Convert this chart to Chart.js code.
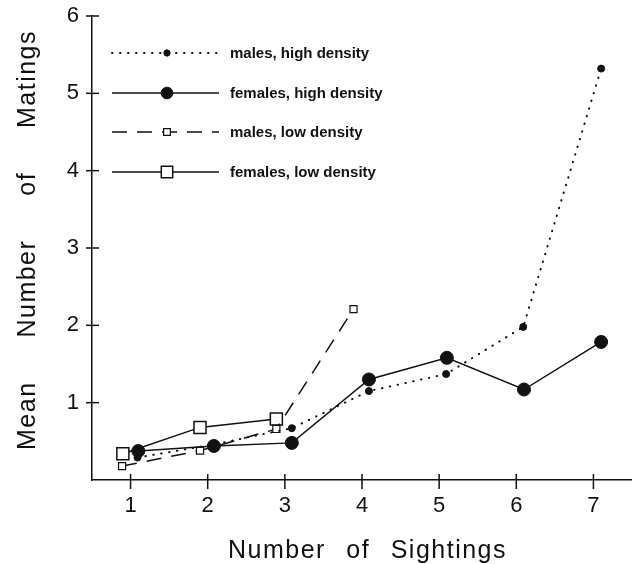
<!DOCTYPE html>
<html>
<head>
<meta charset="utf-8">
<script src="https://cdn.jsdelivr.net/npm/chart.js@4/dist/chart.umd.min.js"></script>
<style>
html,body{margin:0;padding:0;background:#fff;}
#wrap{width:632px;height:564px;position:relative;}
</style>
</head>
<body>
<div id="wrap"><canvas id="c" width="632" height="564"></canvas></div>
<script>
// ---- data ----
const xTicks = [1, 2, 3, 4, 5, 6, 7];
const yTicks = [1, 2, 3, 4, 5, 6];
const seriesNames = ['males, high density', 'females, high density', 'males, low density', 'females, low density'];
const malesHighX = [1.09, 2.08, 3.09, 4.09, 5.09, 6.09, 7.10];
const malesHighY = [0.29, 0.46, 0.67, 1.15, 1.37, 1.98, 5.32];
const femalesHighX = [1.10, 2.08, 3.09, 4.09, 5.10, 6.10, 7.10];
const femalesHighY = [0.375, 0.44, 0.48, 1.30, 1.58, 1.17, 1.785];
const malesLowX = [0.89, 1.90, 2.89, 3.89];
const malesLowY = [0.18, 0.38, 0.66, 2.21];
const femalesLowX = [0.90, 1.90, 2.89];
const femalesLowY = [0.34, 0.68, 0.79];
const xTitleWords = ['Number', 'of', 'Sightings'];
const yTitleWords = ['Mean', 'Number', 'of', 'Matings'];

const FONT = '"Liberation Sans", Arial, Helvetica, sans-serif';
const INK = '#111';

function pts(xs, ys) { return xs.map((x, i) => ({ x: x, y: ys[i] })); }

const datasets = [
  { label: seriesNames[0], data: pts(malesHighX, malesHighY), showLine: true,
    borderColor: INK, backgroundColor: INK, borderWidth: 2, borderDash: [0.5, 7.5], borderCapStyle: 'round',
    pointStyle: 'circle', pointRadius: 3.5, pointBackgroundColor: INK, pointBorderColor: INK, pointBorderWidth: 1, tension: 0 },
  { label: seriesNames[1], data: pts(femalesHighX, femalesHighY), showLine: true,
    borderColor: INK, backgroundColor: INK, borderWidth: 1.5,
    pointStyle: 'circle', pointRadius: 6.5, pointBackgroundColor: INK, pointBorderColor: INK, pointBorderWidth: 1, tension: 0 },
  { label: seriesNames[2], data: pts(malesLowX, malesLowY), showLine: true,
    borderColor: INK, backgroundColor: '#fff', borderWidth: 1.5, borderDash: [15, 10],
    pointStyle: 'rect', pointRadius: 5, pointBackgroundColor: '#fff', pointBorderColor: INK, pointBorderWidth: 1.2, tension: 0 },
  { label: seriesNames[3], data: pts(femalesLowX, femalesLowY), showLine: true,
    borderColor: INK, backgroundColor: '#fff', borderWidth: 1.5,
    pointStyle: 'rect', pointRadius: 8.5, pointBackgroundColor: '#fff', pointBorderColor: INK, pointBorderWidth: 1.5, tension: 0 }
];

const decor = {
  id: 'decor',
  afterDraw(chart) {
    const ctx = chart.ctx;
    const xs = chart.scales.x, ys = chart.scales.y;
    const x0 = ys.right, y0 = xs.top;
    ctx.save();
    ctx.strokeStyle = INK;
    ctx.lineWidth = 1.5;
    ctx.setLineDash([]);
    // crossing tick marks
    xs.ticks.forEach(t => {
      const px = xs.getPixelForValue(t.value);
      ctx.beginPath(); ctx.moveTo(px, y0 - 6); ctx.lineTo(px, y0 + 9); ctx.stroke();
    });
    ys.ticks.forEach(t => {
      const py = ys.getPixelForValue(t.value);
      ctx.beginPath(); ctx.moveTo(x0 - 6, py); ctx.lineTo(x0 + 7, py); ctx.stroke();
    });
    // axis titles
    ctx.fillStyle = INK;
    ctx.font = '25px ' + FONT;
    ctx.letterSpacing = '1.5px';
    ctx.textBaseline = 'alphabetic';
    ctx.textAlign = 'left';
    function spread(words, start, end) {
      const ws = words.map(w => ctx.measureText(w).width);
      const sum = ws.reduce((a, b) => a + b, 0);
      const gap = (end - start - sum) / (words.length - 1);
      const pos = []; let p = start;
      ws.forEach(w => { pos.push(p); p += w + gap; });
      return pos;
    }
    const xp = spread(xTitleWords, 228, 507);
    xTitleWords.forEach((w, i) => ctx.fillText(w, xp[i], 558));
    ctx.save();
    ctx.translate(35, 0);
    ctx.rotate(-Math.PI / 2);
    const yp = spread(yTitleWords, -450, -30);
    yTitleWords.forEach((w, i) => ctx.fillText(w, yp[i], 0));
    ctx.restore();
    // legend
    ctx.letterSpacing = '0px';
    ctx.font = 'bold 15px ' + FONT;
    ctx.textBaseline = 'middle';
    const rows = [53, 93, 132, 172];
    chart.data.datasets.forEach((ds, i) => {
      const ry = rows[i];
      ctx.save();
      ctx.strokeStyle = ds.borderColor;
      ctx.lineWidth = ds.borderWidth;
      ctx.lineCap = ds.borderCapStyle || 'butt';
      ctx.setLineDash(ds.borderDash || []);
      ctx.beginPath(); ctx.moveTo(112, ry); ctx.lineTo(219, ry); ctx.stroke();
      ctx.restore();
      ctx.save();
      ctx.setLineDash([]);
      ctx.fillStyle = ds.pointBackgroundColor;
      ctx.strokeStyle = ds.pointBorderColor;
      ctx.lineWidth = ds.pointBorderWidth;
      Chart.helpers.drawPoint(ctx, { pointStyle: ds.pointStyle, radius: ds.pointRadius * (ds.pointStyle === 'rect' ? 0.95 : 0.9), rotation: 0, borderWidth: ds.pointBorderWidth }, 167, ry);
      ctx.restore();
      ctx.fillStyle = INK;
      ctx.fillText(ds.label, 230, ry + 1);
    });
    ctx.restore();
  }
};

new Chart(document.getElementById('c'), {
  type: 'scatter',
  data: { datasets: datasets },
  options: {
    responsive: false,
    animation: false,
    events: [],
    layout: { autoPadding: false, padding: { top: 16, right: 0, left: 0, bottom: 0 } },
    plugins: { legend: { display: false }, tooltip: { enabled: false }, title: { display: false } },
    scales: {
      x: {
        type: 'linear', min: 0.5, max: 7.5,
        afterBuildTicks: s => { s.ticks = xTicks.map(v => ({ value: v })); },
        afterFit: s => { s.height = 84; s.paddingLeft = 0; s.paddingRight = 0; },
        grid: { display: false, drawTicks: false },
        border: { display: true, color: INK, width: 1.5 },
        ticks: { color: INK, font: { family: FONT, size: 22 }, padding: 13, maxRotation: 0, autoSkip: false },
        title: { display: false }
      },
      y: {
        type: 'linear', min: 0, max: 6,
        afterBuildTicks: s => { s.ticks = yTicks.map(v => ({ value: v })); },
        afterFit: s => { s.width = 92; s.paddingTop = 0; s.paddingBottom = 0; },
        grid: { display: false, drawTicks: false },
        border: { display: true, color: INK, width: 1.5 },
        ticks: { color: INK, font: { family: FONT, size: 22 }, padding: 13, autoSkip: false },
        title: { display: false }
      }
    }
  },
  plugins: [decor]
});
</script>
</body>
</html>
